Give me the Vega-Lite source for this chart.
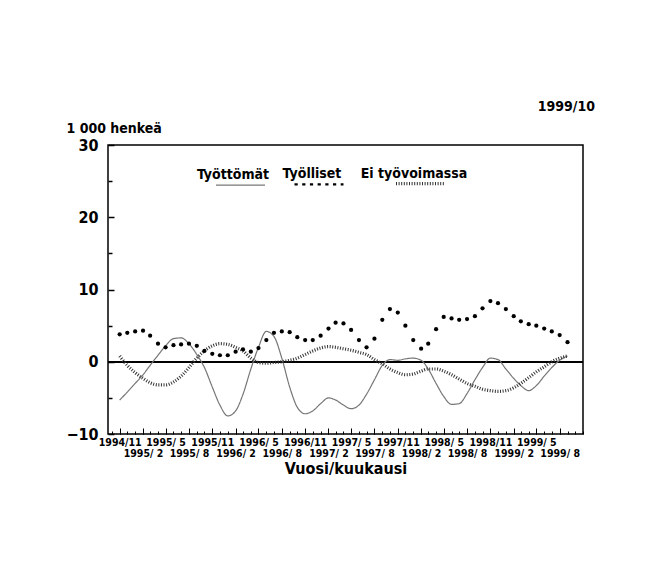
{
  "$schema": "https://vega.github.io/schema/vega-lite/v6.json",
  "width": 475,
  "height": 289,
  "autosize": {"type": "none"},
  "padding": {"left": 108, "top": 145, "right": 63, "bottom": 131},
  "background": "white",
  "config": {
    "view": {"stroke": "black", "strokeWidth": 1.5},
    "font": "DejaVu Sans Condensed",
    "style": {"guide-label": {"lineHeight": 20}}
  },
  "title": {
    "text": "1999/10",
    "anchor": "end",
    "frame": "group",
    "font": "DejaVu Sans Condensed",
    "fontSize": 14,
    "fontWeight": "bold",
    "color": "black",
    "dx": 12,
    "offset": -7,
    "baseline": "bottom"
  },
  "data": {
    "values": [
      {"kk": "1994-11-01", "Työttömät": -5.3, "Työlliset": 3.8, "Ei työvoimassa": 0.8},
      {"kk": "1994-12-01", "Työttömät": -4.2, "Työlliset": 4.0, "Ei työvoimassa": -0.5},
      {"kk": "1995-01-01", "Työttömät": -3.0, "Työlliset": 4.2, "Ei työvoimassa": -1.5},
      {"kk": "1995-02-01", "Työttömät": -1.8, "Työlliset": 4.3, "Ei työvoimassa": -2.3},
      {"kk": "1995-03-01", "Työttömät": -0.5, "Työlliset": 3.6, "Ei työvoimassa": -2.9},
      {"kk": "1995-04-01", "Työttömät": 0.9, "Työlliset": 2.5, "Ei työvoimassa": -3.2},
      {"kk": "1995-05-01", "Työttömät": 2.2, "Työlliset": 2.0, "Ei työvoimassa": -3.2},
      {"kk": "1995-06-01", "Työttömät": 3.2, "Työlliset": 2.3, "Ei työvoimassa": -2.8},
      {"kk": "1995-07-01", "Työttömät": 3.3, "Työlliset": 2.4, "Ei työvoimassa": -2.0},
      {"kk": "1995-08-01", "Työttömät": 2.5, "Työlliset": 2.5, "Ei työvoimassa": -0.8},
      {"kk": "1995-09-01", "Työttömät": 1.0, "Työlliset": 2.2, "Ei työvoimassa": 0.5},
      {"kk": "1995-10-01", "Työttömät": -0.8, "Työlliset": 1.5, "Ei työvoimassa": 1.5},
      {"kk": "1995-11-01", "Työttömät": -3.5, "Työlliset": 1.1, "Ei työvoimassa": 2.2},
      {"kk": "1995-12-01", "Työttömät": -6.0, "Työlliset": 0.9, "Ei työvoimassa": 2.5},
      {"kk": "1996-01-01", "Työttömät": -7.5, "Työlliset": 0.9, "Ei työvoimassa": 2.4},
      {"kk": "1996-02-01", "Työttömät": -6.8, "Työlliset": 1.4, "Ei työvoimassa": 2.0},
      {"kk": "1996-03-01", "Työttömät": -4.5, "Työlliset": 1.7, "Ei työvoimassa": 1.5},
      {"kk": "1996-04-01", "Työttömät": -1.0, "Työlliset": 1.4, "Ei työvoimassa": 0.5},
      {"kk": "1996-05-01", "Työttömät": 2.0, "Työlliset": 1.9, "Ei työvoimassa": -0.1},
      {"kk": "1996-06-01", "Työttömät": 4.2, "Työlliset": 3.0, "Ei työvoimassa": -0.2},
      {"kk": "1996-07-01", "Työttömät": 3.5, "Työlliset": 4.0, "Ei työvoimassa": -0.1},
      {"kk": "1996-08-01", "Työttömät": 0.5, "Työlliset": 4.2, "Ei työvoimassa": 0.0},
      {"kk": "1996-09-01", "Työttömät": -3.5, "Työlliset": 4.1, "Ei työvoimassa": 0.2},
      {"kk": "1996-10-01", "Työttömät": -6.3, "Työlliset": 3.4, "Ei työvoimassa": 0.5},
      {"kk": "1996-11-01", "Työttömät": -7.2, "Työlliset": 3.0, "Ei työvoimassa": 1.0},
      {"kk": "1996-12-01", "Työttömät": -6.8, "Työlliset": 3.0, "Ei työvoimassa": 1.5},
      {"kk": "1997-01-01", "Työttömät": -5.8, "Työlliset": 3.6, "Ei työvoimassa": 1.9},
      {"kk": "1997-02-01", "Työttömät": -5.0, "Työlliset": 4.6, "Ei työvoimassa": 2.1},
      {"kk": "1997-03-01", "Työttömät": -5.3, "Työlliset": 5.4, "Ei työvoimassa": 2.0},
      {"kk": "1997-04-01", "Työttömät": -6.0, "Työlliset": 5.3, "Ei työvoimassa": 1.8},
      {"kk": "1997-05-01", "Työttömät": -6.5, "Työlliset": 4.4, "Ei työvoimassa": 1.6},
      {"kk": "1997-06-01", "Työttömät": -6.0, "Työlliset": 3.0, "Ei työvoimassa": 1.3},
      {"kk": "1997-07-01", "Työttömät": -4.5, "Työlliset": 2.0, "Ei työvoimassa": 1.0},
      {"kk": "1997-08-01", "Työttömät": -2.5, "Työlliset": 3.2, "Ei työvoimassa": 0.3},
      {"kk": "1997-09-01", "Työttömät": -0.5, "Työlliset": 5.8, "Ei työvoimassa": -0.3},
      {"kk": "1997-10-01", "Työttömät": 0.3, "Työlliset": 7.3, "Ei työvoimassa": -1.0},
      {"kk": "1997-11-01", "Työttömät": 0.2, "Työlliset": 6.8, "Ei työvoimassa": -1.5},
      {"kk": "1997-12-01", "Työttömät": 0.4, "Työlliset": 5.0, "Ei työvoimassa": -1.8},
      {"kk": "1998-01-01", "Työttömät": 0.5, "Työlliset": 3.0, "Ei työvoimassa": -1.7},
      {"kk": "1998-02-01", "Työttömät": 0.2, "Työlliset": 1.8, "Ei työvoimassa": -1.3},
      {"kk": "1998-03-01", "Työttömät": -1.0, "Työlliset": 2.5, "Ei työvoimassa": -1.0},
      {"kk": "1998-04-01", "Työttömät": -3.0, "Työlliset": 4.5, "Ei työvoimassa": -1.0},
      {"kk": "1998-05-01", "Työttömät": -4.8, "Työlliset": 6.2, "Ei työvoimassa": -1.3},
      {"kk": "1998-06-01", "Työttömät": -5.9, "Työlliset": 6.0, "Ei työvoimassa": -1.8},
      {"kk": "1998-07-01", "Työttömät": -5.8, "Työlliset": 5.8, "Ei työvoimassa": -2.4},
      {"kk": "1998-08-01", "Työttömät": -4.4, "Työlliset": 5.9, "Ei työvoimassa": -3.0},
      {"kk": "1998-09-01", "Työttömät": -2.5, "Työlliset": 6.3, "Ei työvoimassa": -3.4},
      {"kk": "1998-10-01", "Työttömät": -0.8, "Työlliset": 7.4, "Ei työvoimassa": -3.8},
      {"kk": "1998-11-01", "Työttömät": 0.5, "Työlliset": 8.4, "Ei työvoimassa": -4.0},
      {"kk": "1998-12-01", "Työttömät": 0.3, "Työlliset": 8.1, "Ei työvoimassa": -4.1},
      {"kk": "1999-01-01", "Työttömät": -1.0, "Työlliset": 7.3, "Ei työvoimassa": -4.0},
      {"kk": "1999-02-01", "Työttömät": -2.3, "Työlliset": 6.3, "Ei työvoimassa": -3.6},
      {"kk": "1999-03-01", "Työttömät": -3.3, "Työlliset": 5.6, "Ei työvoimassa": -3.0},
      {"kk": "1999-04-01", "Työttömät": -4.0, "Työlliset": 5.2, "Ei työvoimassa": -2.2},
      {"kk": "1999-05-01", "Työttömät": -3.3, "Työlliset": 5.0, "Ei työvoimassa": -1.4},
      {"kk": "1999-06-01", "Työttömät": -2.0, "Työlliset": 4.6, "Ei työvoimassa": -0.7},
      {"kk": "1999-07-01", "Työttömät": -0.8, "Työlliset": 4.2, "Ei työvoimassa": 0.0},
      {"kk": "1999-08-01", "Työttömät": 0.2, "Työlliset": 3.7, "Ei työvoimassa": 0.5},
      {"kk": "1999-09-01", "Työttömät": 0.8, "Työlliset": 2.7, "Ei työvoimassa": 0.8}
    ]
  },
  "transform": [
    {"fold": ["Työttömät", "Työlliset", "Ei työvoimassa"], "as": ["sarja", "arvo"]}
  ],
  "layer": [
    {
      "mark": {"type": "rule", "color": "black", "strokeWidth": 1.5},
      "encoding": {
        "y": {"datum": 0, "type": "quantitative", "scale": {"domain": [-10, 30], "nice": false, "zero": false}, "axis": null}
      }
    },
    {
      "transform": [{"filter": "datum.sarja != 'Työlliset'"}],
      "mark": {"type": "line", "interpolate": "monotone"},
      "encoding": {
        "x": {
          "field": "kk",
          "type": "temporal",
          "scale": {"type": "utc", "domain": [{"year": 1994, "month": 9, "date": 16, "utc": true}, {"year": 1999, "month": 11, "date": 1, "utc": true}]},
          "axis": {
            "orient": "bottom",
            "values": [
              {"year": 1994, "month": 11, "date": 1, "utc": true},
              {"year": 1995, "month": 2, "date": 1, "utc": true},
              {"year": 1995, "month": 5, "date": 1, "utc": true},
              {"year": 1995, "month": 8, "date": 1, "utc": true},
              {"year": 1995, "month": 11, "date": 1, "utc": true},
              {"year": 1996, "month": 2, "date": 1, "utc": true},
              {"year": 1996, "month": 5, "date": 1, "utc": true},
              {"year": 1996, "month": 8, "date": 1, "utc": true},
              {"year": 1996, "month": 11, "date": 1, "utc": true},
              {"year": 1997, "month": 2, "date": 1, "utc": true},
              {"year": 1997, "month": 5, "date": 1, "utc": true},
              {"year": 1997, "month": 8, "date": 1, "utc": true},
              {"year": 1997, "month": 11, "date": 1, "utc": true},
              {"year": 1998, "month": 2, "date": 1, "utc": true},
              {"year": 1998, "month": 5, "date": 1, "utc": true},
              {"year": 1998, "month": 8, "date": 1, "utc": true},
              {"year": 1998, "month": 11, "date": 1, "utc": true},
              {"year": 1999, "month": 2, "date": 1, "utc": true},
              {"year": 1999, "month": 5, "date": 1, "utc": true},
              {"year": 1999, "month": 8, "date": 1, "utc": true}
            ],
            "labelExpr": "(utcmonth(datum.value) == 1 || utcmonth(datum.value) == 7) ? ['', utcFormat(datum.value, '%Y/%_m')] : utcFormat(datum.value, '%Y/%_m')",
            "tickSize": -6,
            "tickColor": "black",
            "tickWidth": 1,
            "domain": false,
            "grid": false,
            "labelFont": "DejaVu Sans Condensed",
            "labelFontSize": 10.5,
            "labelFontWeight": "bold",
            "labelColor": "black",
            "labelPadding": 9,
            "labelLineHeight": 11,
            "labelBaseline": "top",
            "labelOverlap": false,
            "labelFlush": false,
            "labelBound": false,
            "title": "Vuosi/kuukausi",
            "titleFont": "DejaVu Sans Condensed",
            "titleFontSize": 16,
            "titleFontWeight": "bold",
            "titleColor": "black",
            "titlePadding": 2
          }
        },
        "y": {
          "field": "arvo",
          "type": "quantitative",
          "scale": {"domain": [-10, 30], "nice": false, "zero": false},
          "axis": {
            "orient": "left",
            "values": [-10, 0, 10, 20, 30],
            "tickSize": -6,
            "tickColor": "black",
            "tickWidth": 1.5,
            "domain": false,
            "grid": false,
            "labelFont": "DejaVu Sans Condensed",
            "labelFontSize": 16,
            "labelFontWeight": "bold",
            "labelColor": "black",
            "labelPadding": 16,
            "title": "1 000 henkeä",
            "titleFont": "DejaVu Sans Condensed",
            "titleFontSize": 14,
            "titleFontWeight": "bold",
            "titleColor": "black",
            "titleAngle": 0,
            "titleAlign": "left",
            "titleBaseline": "bottom",
            "titleX": -42,
            "titleY": -10
          }
        },
        "color": {
          "field": "sarja",
          "type": "nominal",
          "scale": {"domain": ["Työttömät", "Työlliset", "Ei työvoimassa"], "range": ["#767676", "#000000", "#333333"]},
          "legend": {
            "title": null,
            "orient": "none",
            "legendX": 107,
            "legendY": 12,
            "direction": "horizontal",
            "symbolType": "stroke",
            "symbolSize": 2400,
            "labelBaseline": "line-bottom",
            "labelAlign": "center",
            "labelOffset": -33,
            "labelFont": "DejaVu Sans Condensed",
            "labelFontSize": 14,
            "labelFontWeight": "bold",
            "labelColor": "black",
            "columnPadding": 12
          }
        },
        "strokeDash": {
          "field": "sarja",
          "type": "nominal",
          "scale": {"domain": ["Työttömät", "Työlliset", "Ei työvoimassa"], "range": [[1, 0], [3.2, 4.5], [1, 1.6]]},
          "legend": {
            "title": null,
            "orient": "none",
            "legendX": 107,
            "legendY": 12,
            "direction": "horizontal",
            "symbolType": "stroke",
            "symbolSize": 2400,
            "labelBaseline": "line-bottom",
            "labelAlign": "center",
            "labelOffset": -33,
            "labelFont": "DejaVu Sans Condensed",
            "labelFontSize": 14,
            "labelFontWeight": "bold",
            "labelColor": "black",
            "columnPadding": 12
          }
        },
        "strokeWidth": {
          "field": "sarja",
          "type": "nominal",
          "scale": {"domain": ["Työttömät", "Työlliset", "Ei työvoimassa"], "range": [1.2, 3.2, 1.15]},
          "legend": {
            "title": null,
            "orient": "none",
            "legendX": 107,
            "legendY": 12,
            "direction": "horizontal",
            "symbolType": "stroke",
            "symbolSize": 2400,
            "labelBaseline": "line-bottom",
            "labelAlign": "center",
            "labelOffset": -33,
            "labelFont": "DejaVu Sans Condensed",
            "labelFontSize": 14,
            "labelFontWeight": "bold",
            "labelColor": "black",
            "columnPadding": 12
          }
        }
      }
    },
    {
      "transform": [{"filter": "datum.sarja == 'Työlliset'"}],
      "mark": {"type": "point", "filled": true, "color": "black", "size": 18, "opacity": 1},
      "encoding": {
        "x": {
          "field": "kk",
          "type": "temporal",
          "scale": {"type": "utc", "domain": [{"year": 1994, "month": 9, "date": 16, "utc": true}, {"year": 1999, "month": 11, "date": 1, "utc": true}]},
          "axis": {
            "orient": "bottom",
            "tickCount": {"interval": "month", "step": 1},
            "tickSize": -3,
            "tickColor": "black",
            "tickWidth": 1,
            "labels": false,
            "domain": false,
            "grid": false,
            "title": null
          }
        },
        "y": {
          "field": "arvo",
          "type": "quantitative",
          "scale": {"domain": [-10, 30], "nice": false, "zero": false},
          "axis": {
            "orient": "left",
            "values": [-5, 5, 15, 25],
            "tickSize": -4,
            "tickColor": "black",
            "tickWidth": 1.5,
            "labels": false,
            "domain": false,
            "grid": false,
            "title": null
          }
        }
      }
    }
  ],
  "resolve": {"axis": {"x": "independent", "y": "independent"}}
}
